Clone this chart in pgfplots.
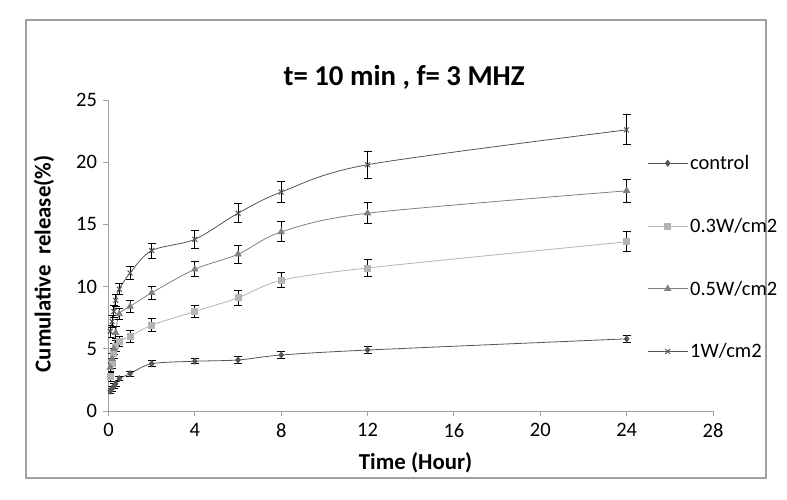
\documentclass[border=0pt]{standalone}
\usepackage{pgfplots}
\pgfplotsset{compat=1.18}
\usepackage{pgfplotstable}
\usepackage{fontspec}
\setmainfont{Carlito}
\definecolor{cctrl}{HTML}{555555}
\definecolor{cthree}{HTML}{B4B4B4}
\definecolor{cfive}{HTML}{808080}
\definecolor{cone}{HTML}{555555}
\definecolor{axgray}{HTML}{A0A0A0}

\pgfplotstableread{
x y e
0.083 1.6 0.2
0.167 1.8 0.2
0.25 2.0 0.2
0.333 2.2 0.2
0.5 2.6 0.15
1 3.0 0.2
2 3.8 0.25
4 4.0 0.2
6 4.1 0.25
8 4.5 0.3
12 4.9 0.3
24 5.8 0.3
}\ctrl
\pgfplotstableread{
x y e
0.083 2.8 0.4
0.167 3.8 0.4
0.25 4.6 0.4
0.333 5.2 0.45
0.5 5.6 0.4
1 6.0 0.45
2 6.9 0.5
4 8.0 0.5
6 9.1 0.6
8 10.5 0.6
12 11.5 0.7
24 13.6 0.8
}\three
\pgfplotstableread{
x y e
0.083 3.5 0.4
0.167 4.2 0.4
0.25 5.0 0.45
0.333 6.3 0.5
0.5 7.8 0.45
1 8.4 0.5
2 9.5 0.55
4 11.4 0.6
6 12.6 0.7
8 14.4 0.8
12 15.9 0.85
24 17.7 0.95
}\five
\pgfplotstableread{
x y e
0.083 6.4 0.5
0.167 7.2 0.5
0.25 8.0 0.5
0.333 8.9 0.5
0.5 9.8 0.45
1 11.1 0.55
2 12.9 0.6
4 13.8 0.7
6 15.9 0.75
8 17.6 0.85
12 19.8 1.1
24 22.6 1.2
}\one

\begin{document}
\begin{tikzpicture}
\path[use as bounding box] (-108.5pt,-89pt) rectangle (678.5pt,411pt);
\draw[color=axgray, line width=1.3pt] (-82.5pt,-67pt) rectangle (657.5pt,391pt);
\begin{axis}[
  at={(0pt,0pt)}, anchor=south west,
  scale only axis, width=604.5pt, height=311pt,
  xmin=0, xmax=28, ymin=0, ymax=25,
  axis x line=bottom, axis y line=left,
  axis line style={-, color=axgray, line width=0.9pt},
  xtick={0,4,...,28}, ytick={0,5,...,25},
  tick align=outside, major tick length=5pt,
  tick style={color=axgray, line width=0.9pt},
  /pgf/number format/assume math mode=true,
  ticklabel style={font=\fontsize{20.5}{24}\selectfont, color=black},
  xticklabel style={yshift=-4pt},
  yticklabel style={xshift=-3pt},
  xlabel={Time (Hour)},
  ylabel={Cumulative\ \ release(\%)},
  xlabel style={font=\bfseries\fontsize{22.8}{26}\selectfont, at={(axis description cs:0.508,-0.167)}, anchor=center},
  ylabel style={font=\bfseries\fontsize{22.8}{26}\selectfont, at={(axis description cs:-0.1067,0.473)}, anchor=center},
  title={t= 10 min , f= 3 MHZ},
  title style={font=\bfseries\fontsize{28.8}{32}\selectfont, at={(axis description cs:0.489,1.055)}, anchor=center},
  legend style={draw=none, fill=none, font=\fontsize{20.5}{24}\selectfont,
    at={(axis description cs:0.891,0.829)}, anchor=north west,
    row sep=43pt, inner sep=0pt, nodes={inner sep=2pt}},
  legend cell align=left,
  legend image code/.code={
    \draw[mark repeat=2,mark phase=2] plot coordinates {(0pt,0pt)(20pt,0pt)(40pt,0pt)};
  },
  error bars/y dir=both, error bars/y explicit,
  error bars/error bar style={black, line width=0.9pt},
  error bars/error mark options={rotate=90, mark size=4pt, black, line width=0.9pt},
  every axis plot/.append style={smooth, tension=0.5, line width=0.8pt},
]
\addplot[color=cctrl, mark=diamond*, mark size=3pt, mark options={fill=cctrl}]
  table[x=x, y=y, y error=e] {\ctrl};
\addlegendentry{control}
\addplot[color=cthree, mark=square*, mark size=3pt, mark options={fill=cthree}]
  table[x=x, y=y, y error=e] {\three};
\addlegendentry{0.3W/cm2}
\addplot[color=cfive, mark=triangle*, mark size=3.5pt, mark options={fill=cfive}]
  table[x=x, y=y, y error=e] {\five};
\addlegendentry{0.5W/cm2}
\addplot[color=cone, mark=x, mark size=3.5pt, mark options={line width=1pt}]
  table[x=x, y=y, y error=e] {\one};
\addlegendentry{1W/cm2}
\end{axis}
\end{tikzpicture}
\end{document}
